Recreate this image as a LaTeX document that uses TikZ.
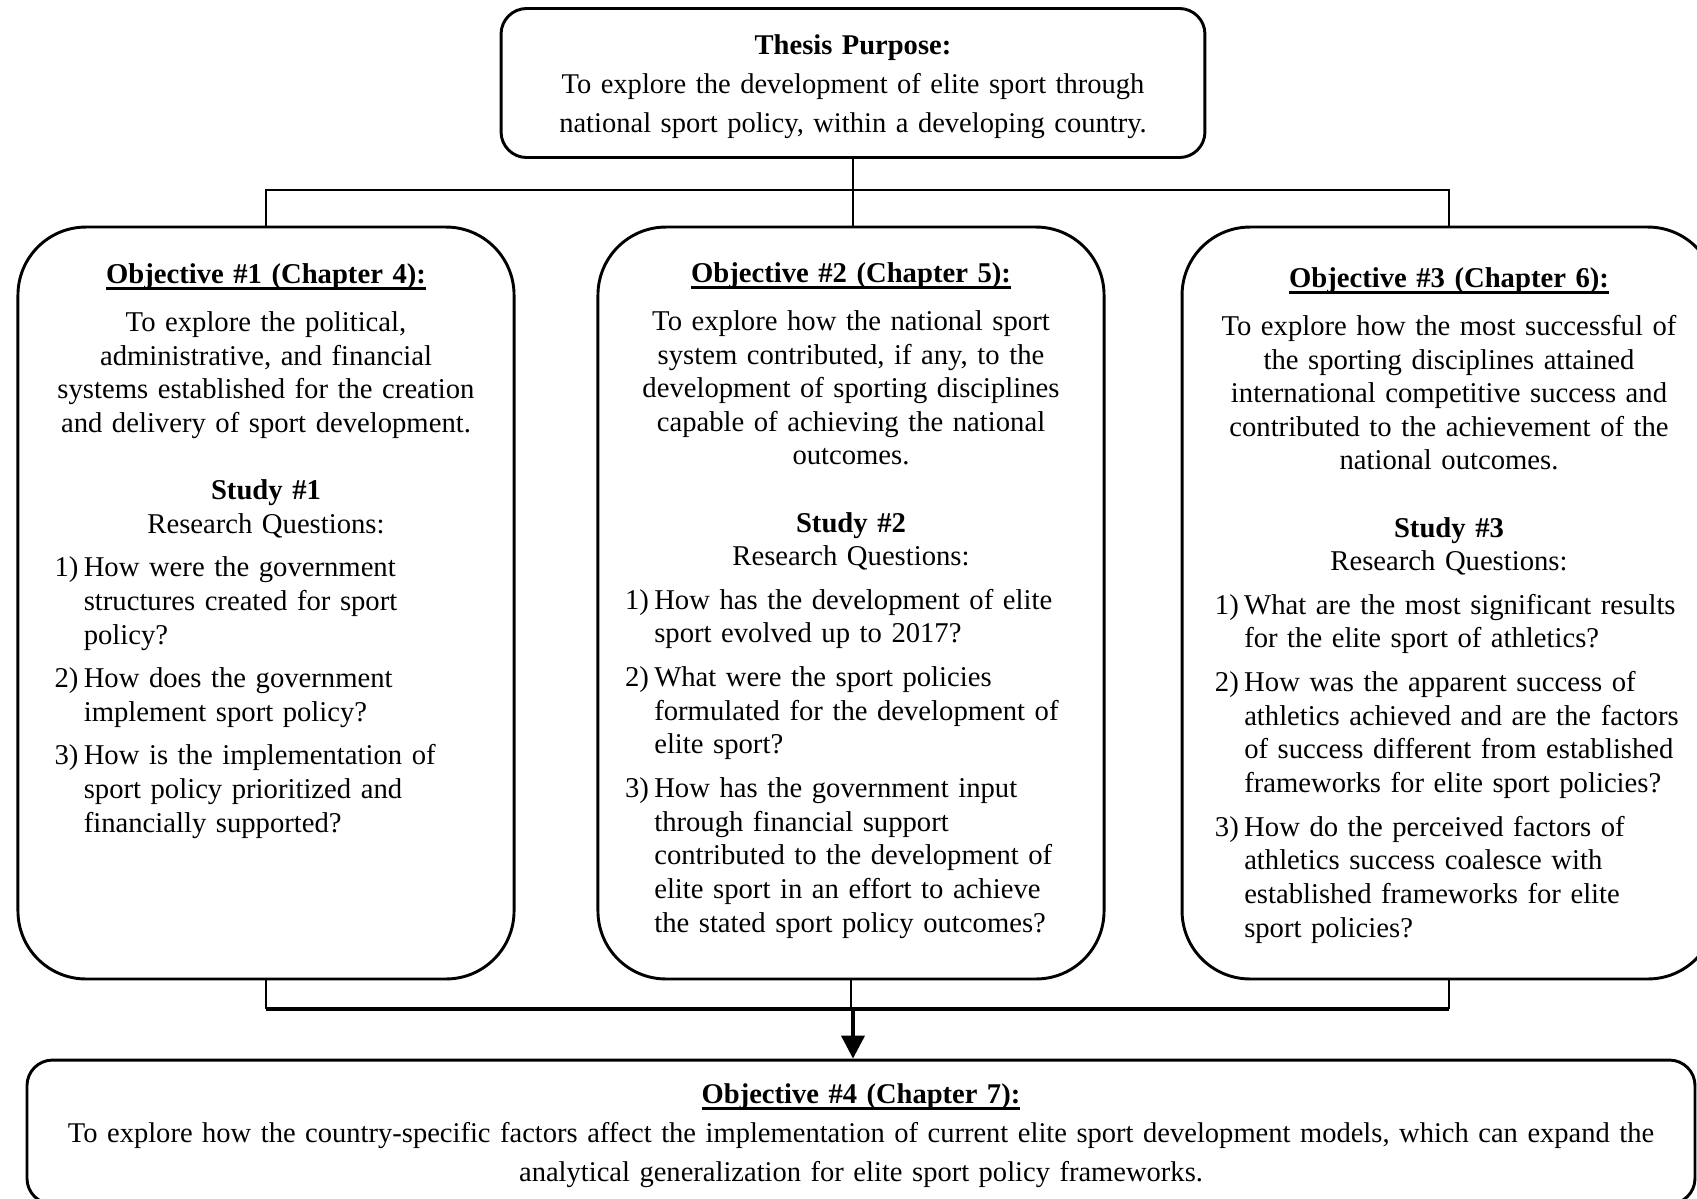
\documentclass[tikz,border=0pt]{standalone}
\usepackage{fontspec}
\setmainfont{Liberation Serif}
\usetikzlibrary{arrows.meta}

\newcommand\objhead[1]{\leavevmode\setbox0\hbox{\bfseries #1}\rlap{\rule[-2.6pt]{\wd0}{1.1pt}}\box0\par}
\newcommand\qitem[2]{\par\vspace{3.8pt}\noindent\hangindent=12pt\hangafter=1 \makebox[12pt][l]{#1)}#2\par}

\begin{document}
\begin{tikzpicture}[x=0.41pt,y=-0.41pt,
  objbox/.style={draw,line width=1.2pt,rounded corners=27.9pt,minimum height=308.3pt},
  objtext/.style={anchor=north,inner sep=0pt,align=center,font=\fontsize{11.75}{13.75}\selectfont},
  widebox/.style={draw,line width=1.2pt,rounded corners=10.5pt,align=center,font=\fontsize{11.7}{16}\selectfont},
  link/.style={line width=0.55pt},
  bar/.style={line width=1.3pt},
  flow/.style={line width=1.6pt,-{Triangle[width=9.4pt,length=9.4pt]}}]
\useasboundingbox (0,0) rectangle (1697,1199);

\node[widebox,minimum width=288.6pt,minimum height=61.1pt,text width=270pt] (purpose) at (853,83)
  {\rule{0pt}{11.4pt}\textbf{Thesis Purpose:}\\ To explore the development of elite sport through\\ national sport policy, within a developing country.};

\foreach \n/\x/\w in {1/266/203.4pt,2/851/207.5pt,3/1449/218.9pt}
  {\node[objbox,minimum width=\w] (obj\n) at (\x,603) {};}

\node[objtext,text width=187pt] (obj1txt) at (266,263) {
  \objhead{Objective \#1 (Chapter 4):}\vspace{6pt}
  To explore the political,\\ administrative, and financial\\ systems established for the creation\\ and delivery of sport development.\par\vspace{14pt}
  \textbf{Study \#1}\\ Research Questions:\par
  \raggedright\leftskip=6.8pt\baselineskip=13.9pt
  \qitem{1}{How were the government\newline structures created for sport\newline policy?}
  \qitem{2}{How does the government\newline implement sport policy?}
  \qitem{3}{How is the implementation of\newline sport policy prioritized and\newline financially supported?}};

\node[objtext,text width=191.9pt] (obj2txt) at (851,262) {
  \objhead{Objective \#2 (Chapter 5):}\vspace{6pt}
  To explore how the national sport\\ system contributed, if any, to the\\ development of sporting disciplines\\ capable of achieving the national\\ outcomes.\par\vspace{14pt}
  \textbf{Study \#2}\\ Research Questions:\par
  \raggedright\leftskip=3.3pt\baselineskip=13.9pt
  \qitem{1}{How has the development of elite\newline sport evolved up to 2017?}
  \qitem{2}{What were the sport policies\newline formulated for the development of\newline elite sport?}
  \qitem{3}{How has the government input\newline through financial support\newline contributed to the development of\newline elite sport in an effort to achieve\newline the stated sport policy outcomes?}};

\node[objtext,text width=201.7pt] (obj3txt) at (1449,267) {
  \objhead{Objective \#3 (Chapter 6):}\vspace{6pt}
  To explore how the most successful of\\ the sporting disciplines attained\\ international competitive success and\\ contributed to the achievement of the\\ national outcomes.\par\vspace{14pt}
  \textbf{Study \#3}\\ Research Questions:\par
  \raggedright\leftskip=4.9pt\baselineskip=13.9pt
  \qitem{1}{What are the most significant results\newline for the elite sport of athletics?}
  \qitem{2}{How was the apparent success of\newline athletics achieved and are the factors\newline of success different from established\newline frameworks for elite sport policies?}
  \qitem{3}{How do the perceived factors of\newline athletics success coalesce with\newline established frameworks for elite\newline sport policies?}};

\node[widebox,minimum width=683.9pt,minimum height=59pt,text width=672pt] (obj4) at (861,1132)
  {\rule{0pt}{11.2pt}\objhead{Objective \#4 (Chapter 7):}
  To explore how the country-specific factors affect the implementation of current elite sport development models, which can expand the\\
  analytical generalization for elite sport policy frameworks.};

\coordinate (split) at (853,190);
\coordinate (join) at (853,1009);
\draw[link] (purpose.south) -- (purpose.south |- obj2.north);
\draw[link] (obj1.north) |- (split) -| (obj3.north);
\foreach \o in {obj1,obj2,obj3}
  {\draw[link] (\o.south) -- (\o.south |- join);}
\draw[bar] (obj1.south |- join) -- (obj3.south |- join);
\draw[flow] (join) -- (join |- obj4.north);
\end{tikzpicture}
\end{document}
